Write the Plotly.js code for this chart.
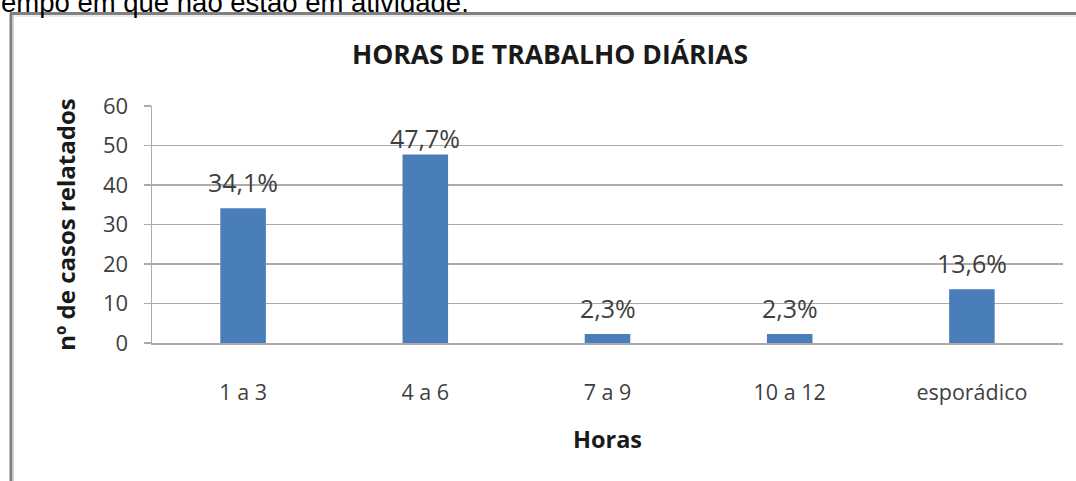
<!DOCTYPE html>
<html>
<head>
<meta charset="utf-8">
<script src="https://cdn.plot.ly/plotly-3.0.1.min.js"></script>
<style>
  html, body { margin: 0; padding: 0; background: #ffffff; }
  #chart { width: 1076px; height: 481px; }
</style>
</head>
<body>
<div id="chart"></div>
<script>
// ---- data ----
const categories = ['1 a 3', '4 a 6', '7 a 9', '10 a 12', 'esporádico'];
const values = [34.1, 47.7, 2.3, 2.3, 13.6];
const yTickValues = [0, 10, 20, 30, 40, 50, 60];
const chartTitle = 'HORAS DE TRABALHO DIÁRIAS';
const xTitle = 'Horas';
const yTitle = 'nº de casos relatados';
const pageText = 'empo em que não estão em atividade.';

// ---- layout geometry (pixels) ----
const W = 1076, H = 481;
const M = { l: 152, r: 13, t: 106, b: 138 };
const PW = W - M.l - M.r, PH = H - M.t - M.b;
const px2x = p => (p - M.l) / PW;
const py2y = p => (H - M.b - p) / PH;

const labels = values.map(v => v.toFixed(1).replace('.', ',') + '%');

const gridColor = '#ababab';
const textGray = '#3f3f3f';

const annotations = categories.map((c, i) => ({
  x: c, y: values[i], xref: 'x', yref: 'y',
  text: labels[i], showarrow: false,
  xanchor: 'center', yanchor: 'middle',
  yshift: values[i] > 45 ? 17 : 26,
  font: { family: 'Open Sans, sans-serif', size: 25, color: textGray }
}));

annotations.push({
  xref: 'paper', yref: 'paper', x: px2x(-1), y: py2y(2),
  xanchor: 'left', yanchor: 'middle', showarrow: false,
  text: pageText,
  font: { family: 'Liberation Sans, Arial, sans-serif', size: 27.5, color: '#000000' }
});

const frameColor = '#808080';
const shapes = [
  { type: 'line', xref: 'paper', yref: 'paper', x0: px2x(11), x1: px2x(11), y0: py2y(13), y1: py2y(482),
    line: { color: frameColor, width: 3 } },
  { type: 'line', xref: 'paper', yref: 'paper', x0: px2x(10), x1: px2x(1077), y0: py2y(13.5), y1: py2y(13.5),
    line: { color: frameColor, width: 3 } },
  { type: 'line', xref: 'paper', yref: 'paper', x0: px2x(13.5), x1: px2x(13.5), y0: py2y(15), y1: py2y(482),
    line: { color: '#d9d9d9', width: 1 } },
  { type: 'line', xref: 'paper', yref: 'paper', x0: px2x(13), x1: px2x(1077), y0: py2y(16), y1: py2y(16),
    line: { color: '#d9d9d9', width: 1 } }
];

const trace = {
  type: 'bar',
  x: categories,
  y: values,
  marker: { color: '#4a7ebb' },
  hoverinfo: 'x+y'
};

const layout = {
  width: W, height: H,
  margin: M,
  paper_bgcolor: '#ffffff',
  plot_bgcolor: '#ffffff',
  showlegend: false,
  bargap: 0.75,
  title: {
    text: chartTitle,
    xref: 'container', yref: 'container',
    x: 550 / W, y: 1 - 55 / H,
    xanchor: 'center', yanchor: 'middle',
    font: { family: 'Open Sans, sans-serif', size: 26.5, color: '#1a1a1a', weight: 'bold' }
  },
  xaxis: {
    type: 'category',
    tickmode: 'array', tickvals: categories, ticktext: categories,
    showgrid: false,
    showline: true, linecolor: gridColor, linewidth: 1.5,
    ticks: '',
    ticklabelstandoff: 30,
    tickfont: { family: 'Open Sans, sans-serif', size: 21.5, color: textGray },
    title: {
      text: xTitle, standoff: 26,
      font: { family: 'Open Sans, sans-serif', size: 23.5, color: '#1a1a1a', weight: 'bold' }
    },
    fixedrange: true
  },
  yaxis: {
    range: [0, 60],
    tickmode: 'array', tickvals: yTickValues,
    showgrid: true, gridcolor: gridColor, gridwidth: 1.5,
    zeroline: false,
    showline: true, linecolor: gridColor, linewidth: 1.5,
    ticks: 'outside', ticklen: 7, tickcolor: gridColor, tickwidth: 1.5,
    ticklabelstandoff: 11,
    tickfont: { family: 'Open Sans, sans-serif', size: 22, color: textGray },
    title: {
      text: yTitle, standoff: 20,
      font: { family: 'Open Sans, sans-serif', size: 24, color: '#1a1a1a', weight: 'bold' }
    },
    fixedrange: true
  },
  annotations: annotations,
  shapes: shapes
};

Plotly.newPlot('chart', [trace], layout, { staticPlot: true, displayModeBar: false });
</script>
</body>
</html>
